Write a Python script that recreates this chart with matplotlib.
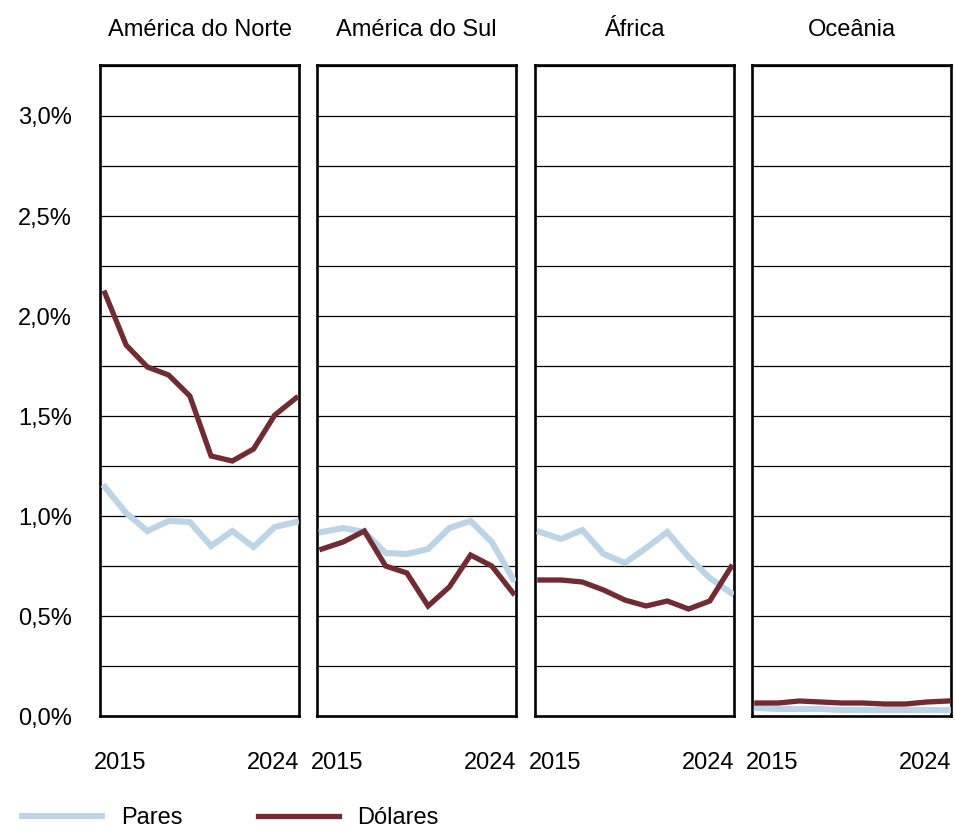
import matplotlib
matplotlib.use("Agg")
import matplotlib.pyplot as plt
from matplotlib.lines import Line2D

plt.rcParams['font.family'] = ['Liberation Sans', 'DejaVu Sans']

years = list(range(2015, 2025))
regions = ['América do Norte', 'América do Sul', 'África', 'Oceânia']

# share of total, in percent
pares = {
    'América do Norte': [1.145, 1.015, 0.925, 0.975, 0.97, 0.85, 0.925, 0.845, 0.945, 0.97],
    'América do Sul': [0.92, 0.94, 0.92, 0.815, 0.81, 0.835, 0.94, 0.975, 0.87, 0.685],
    'África': [0.92, 0.885, 0.93, 0.81, 0.765, 0.84, 0.92, 0.795, 0.69, 0.615],
    'Oceânia': [0.04, 0.035, 0.035, 0.035, 0.03, 0.03, 0.03, 0.03, 0.03, 0.03],
}
dolares = {
    'América do Norte': [2.115, 1.855, 1.745, 1.705, 1.60, 1.30, 1.275, 1.335, 1.505, 1.59],
    'América do Sul': [0.835, 0.87, 0.925, 0.75, 0.715, 0.55, 0.645, 0.805, 0.75, 0.615],
    'África': [0.68, 0.68, 0.67, 0.63, 0.58, 0.55, 0.575, 0.535, 0.575, 0.745],
    'Oceânia': [0.065, 0.065, 0.075, 0.07, 0.065, 0.065, 0.06, 0.06, 0.07, 0.075],
}
ytick_vals = [0.0, 0.5, 1.0, 1.5, 2.0, 2.5, 3.0]
ytick_labels = ['0,0%', '0,5%', '1,0%', '1,5%', '2,0%', '2,5%', '3,0%']

BLUE = '#bcd4e6'
RED = '#722a33'
FS = 17

fig = plt.figure(figsize=(9.55, 8.3), dpi=100)
lefts = [100, 317, 535, 752]
W, H = 955, 830

for i, reg in enumerate(regions):
    ax = fig.add_axes([lefts[i] / W, 1 - 716 / H, 199 / W, 651 / H])
    for g in [0.25 * k for k in range(1, 14)]:
        ax.axhline(g, color='black', lw=0.9, zorder=1)
    ax.plot(years, pares[reg], color=BLUE, lw=4.4, solid_joinstyle='miter', zorder=3)
    ax.plot(years, dolares[reg], color=RED, lw=3.8, solid_joinstyle='miter', zorder=4)
    ax.set_xlim(2014.77, 2024.14)
    ax.set_ylim(0, 3.255)
    for s in ax.spines.values():
        s.set_linewidth(1.9)
        s.set_color('black')
    ax.set_xticks([])
    if i == 0:
        ax.set_yticks(ytick_vals)
        ax.set_yticklabels(ytick_labels, fontsize=FS)
        ax.tick_params(axis='y', length=0, pad=20)
    else:
        ax.set_yticks([])
    ax.text(-0.03, -0.072, '2015', transform=ax.transAxes, ha='left', va='center', fontsize=FS)
    ax.text(1.0, -0.072, '2024', transform=ax.transAxes, ha='right', va='center', fontsize=FS)
    ax.text(0.5, 1.053, reg, transform=ax.transAxes, ha='center', va='center', fontsize=FS)

handles = [Line2D([], [], color=BLUE, lw=4.4), Line2D([], [], color=RED, lw=3.8)]
fig.legend(handles, ['Pares', 'Dólares'], loc='center left', bbox_to_anchor=(22 / W, 1 - 818 / H),
           ncol=2, frameon=False, fontsize=FS, handlelength=3.4, handletextpad=0.8,
           columnspacing=3.2, borderpad=0, borderaxespad=0)

fig.savefig('out.png', dpi=100)
plt.close()
